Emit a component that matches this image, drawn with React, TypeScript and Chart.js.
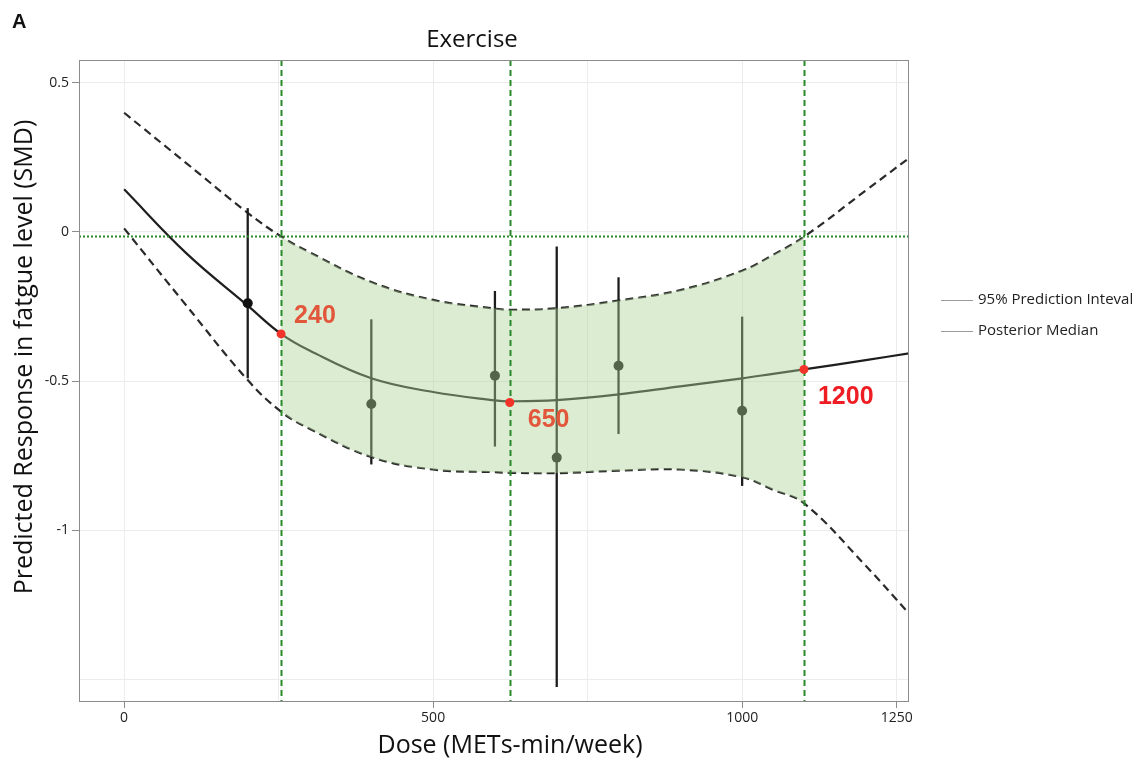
import React, { useEffect, useRef } from "react";
import { Chart, registerables } from "chart.js";

Chart.register(...registerables);

// ---- data ----
const doseGrid = [0, 100, 200, 254, 300, 400, 500, 600, 624, 700, 800, 900, 1000, 1050, 1100, 1200, 1270];
const medianY = [0.143, -0.07, -0.247, -0.342, -0.398, -0.491, -0.537, -0.565, -0.568, -0.564, -0.545, -0.518, -0.491, -0.476, -0.461, -0.43, -0.407];
const upperY = [0.4, 0.232, 0.064, -0.015, -0.068, -0.168, -0.228, -0.257, -0.261, -0.256, -0.23, -0.195, -0.13, -0.077, -0.016, 0.139, 0.248];
const lowerY = [0.012, -0.245, -0.497, -0.603, -0.66, -0.755, -0.797, -0.806, -0.808, -0.809, -0.801, -0.797, -0.823, -0.865, -0.91, -1.12, -1.28];

const studyDose = [200, 400, 600, 700, 800, 1000];
const studyMean = [-0.239, -0.577, -0.482, -0.757, -0.449, -0.6];
const studyLow = [-0.491, -0.78, -0.72, -1.527, -0.678, -0.852];
const studyHigh = [0.08, -0.293, -0.198, -0.049, -0.152, -0.284];

const thresholdDose = [254, 624, 1100];
const thresholdY = [-0.342, -0.572, -0.461];
const thresholdLabels = ["240", "650", "1200"];
const nullLineY = -0.012;

const xTickValues = [0, 250, 500, 750, 1000, 1250];
const xTickLabels = ["0", "", "500", "", "1000", "1250"];
const yTickValues = [-1.5, -1, -0.5, 0, 0.5];
const yTickLabels = ["", "-1", "-0.5", "0", "0.5"];

const legendLabels = ["95% Prediction Inteval", "Posterior Median"];
const chartTitle = "Exercise";
const panelLetter = "A";
const xTitle = "Dose (METs-min/week)";
const yTitle = "Predicted Response in fatgue level (SMD)";

// ---- styles ----
const FONT = "'Open Sans', 'Noto Sans', sans-serif";
const BAND_FILL = "rgba(174, 211, 150, 0.43)";
const GREEN = "#2a8a2a";
const TENSION = 0.4;
const labelColors = ["#e2573b", "#e2573b", "#ee1d23"];
const labelOffsets = [
  [13, -18],
  [18, 18],
  [14, 28],
];

const toXY = (xs: number[], ys: number[]) => xs.map((x, i) => ({ x, y: ys[i] }));

export default function App() {
  const ref = useRef<HTMLCanvasElement | null>(null);

  useEffect(() => {
    if (!ref.current) return;
    const bandStart = thresholdDose[0];
    const bandEnd = thresholdDose[thresholdDose.length - 1];

    const decor = {
      id: "decor",
      beforeDatasetDraw(chart: any, args: any) {
        if (args.index !== 3) return;
        const { ctx, scales } = chart;
        ctx.save();
        ctx.strokeStyle = "#1c1c1c";
        ctx.lineWidth = 2.3;
        studyDose.forEach((d, i) => {
          const px = scales.x.getPixelForValue(d);
          ctx.beginPath();
          ctx.moveTo(px, scales.y.getPixelForValue(studyLow[i]));
          ctx.lineTo(px, scales.y.getPixelForValue(studyHigh[i]));
          ctx.stroke();
        });
        ctx.restore();
      },
      afterDatasetDraw(chart: any, args: any) {
        if (args.index !== 4) return;
        const { ctx, scales, chartArea } = chart;
        ctx.save();
        ctx.strokeStyle = GREEN;
        ctx.lineWidth = 2;
        ctx.setLineDash([6, 4]);
        thresholdDose.forEach((d) => {
          const px = Math.round(scales.x.getPixelForValue(d)) + 0.5;
          ctx.beginPath();
          ctx.moveTo(px, chartArea.top);
          ctx.lineTo(px, chartArea.bottom);
          ctx.stroke();
        });
        ctx.setLineDash([2, 2]);
        const py = Math.round(scales.y.getPixelForValue(nullLineY)) + 0.5;
        ctx.beginPath();
        ctx.moveTo(chartArea.left, py);
        ctx.lineTo(chartArea.right, py);
        ctx.stroke();
        ctx.restore();
      },
      afterDraw(chart: any) {
        const { ctx, chartArea, scales } = chart;
        ctx.save();
        // plot border
        ctx.strokeStyle = "#8c8c8c";
        ctx.lineWidth = 1;
        ctx.strokeRect(chartArea.left + 0.5, chartArea.top + 0.5, chartArea.right - chartArea.left - 1, chartArea.bottom - chartArea.top - 1);

        // threshold labels
        ctx.font = "bold 25px 'Liberation Sans', Arial, sans-serif";
        ctx.textAlign = "left";
        ctx.textBaseline = "middle";
        thresholdDose.forEach((d, i) => {
          const px = scales.x.getPixelForValue(d);
          const py = scales.y.getPixelForValue(thresholdY[i]);
          ctx.fillStyle = labelColors[i];
          ctx.fillText(thresholdLabels[i], px + labelOffsets[i][0], py + labelOffsets[i][1]);
        });

        ctx.fillStyle = "#111";
        // panel letter
        ctx.font = "bold 20px 'Liberation Sans', Arial, sans-serif";
        ctx.fillText(panelLetter, 12, 22);

        // title
        ctx.textAlign = "center";
        ctx.font = `24px ${FONT}`;
        ctx.fillText(chartTitle, 472, 40);

        // x title
        ctx.font = `25px ${FONT}`;
        ctx.fillText(xTitle, 510, 746);

        // y title
        ctx.save();
        ctx.translate(25, 357);
        ctx.rotate(-Math.PI / 2);
        ctx.font = `25px ${FONT}`;
        ctx.fillText(yTitle, 0, 0);
        ctx.restore();

        // legend
        ctx.textAlign = "left";
        ctx.font = `15px ${FONT}`;
        legendLabels.forEach((t, i) => {
          const y = 300 + i * 31;
          ctx.strokeStyle = "#9a9a9a";
          ctx.lineWidth = 1;
          ctx.beginPath();
          ctx.moveTo(941, y + 0.5);
          ctx.lineTo(973, y + 0.5);
          ctx.stroke();
          ctx.fillStyle = "#222";
          ctx.fillText(t, 978, y);
        });
        ctx.restore();
      },
    };

    const lineBase = {
      pointRadius: 0,
      tension: TENSION,
      cubicInterpolationMode: "default",
    };

    const chart = new Chart(ref.current, {
      type: "line",
      data: {
        datasets: [
          {
            ...lineBase,
            label: "Posterior Median",
            data: toXY(doseGrid, medianY),
            borderColor: "#1e1e1e",
            borderWidth: 2.2,
            fill: false,
            order: 5,
          },
          {
            ...lineBase,
            label: "upper",
            data: toXY(doseGrid, upperY),
            borderColor: "#2a2a2a",
            borderWidth: 2.2,
            borderDash: [8, 5],
            fill: false,
            order: 5,
          },
          {
            ...lineBase,
            label: "lower",
            data: toXY(doseGrid, lowerY),
            borderColor: "#2a2a2a",
            borderWidth: 2.2,
            borderDash: [8, 5],
            fill: false,
            order: 5,
          },
          {
            label: "studies",
            data: toXY(studyDose, studyMean),
            showLine: false,
            pointRadius: 5,
            pointBackgroundColor: "#111",
            pointBorderWidth: 0,
            order: 4,
          },
          {
            ...lineBase,
            label: "band",
            data: toXY(doseGrid, upperY),
            borderWidth: 0,
            borderColor: "rgba(0,0,0,0)",
            fill: 2,
            backgroundColor: BAND_FILL,
            segment: {
              backgroundColor: (c: any) =>
                c.p0.parsed.x >= bandStart && c.p1.parsed.x <= bandEnd ? BAND_FILL : "rgba(0,0,0,0)",
            },
            order: 1,
          },
          {
            label: "thresholds",
            data: toXY(thresholdDose, thresholdY),
            showLine: false,
            pointRadius: 4.5,
            pointBackgroundColor: "#f2332a",
            pointBorderWidth: 0,
            order: 0,
          },
        ],
      },
      options: {
        responsive: false,
        animation: false,
        events: [],
        layout: { padding: { top: 60, right: 238, bottom: 0, left: 0 } },
        plugins: {
          legend: { display: false },
          tooltip: { enabled: false },
          title: { display: false },
          filler: { propagate: false, drawTime: "beforeDatasetDraw" },
        },
        scales: {
          x: {
            type: "linear",
            min: -73,
            max: 1270,
            afterFit: (s: any) => {
              s.height = 63;
            },
            afterBuildTicks: (s: any) => {
              s.ticks = xTickValues.map((v) => ({ value: v }));
            },
            ticks: {
              callback: (_v: any, i: number) => xTickLabels[i],
              font: { family: FONT, size: 14 },
              color: "#222",
              padding: 2,
              maxRotation: 0,
              autoSkip: false,
            },
            grid: {
              color: "#ececec",
              lineWidth: 1,
              tickLength: 6,
              tickColor: (c: any) => (xTickLabels[c.index] ? "#8c8c8c" : "rgba(0,0,0,0)"),
            },
            border: { display: false },
          },
          y: {
            type: "linear",
            min: -1.577,
            max: 0.577,
            afterFit: (s: any) => {
              s.width = 79;
            },
            afterBuildTicks: (s: any) => {
              s.ticks = yTickValues.map((v) => ({ value: v }));
            },
            ticks: {
              callback: (_v: any, i: number) => yTickLabels[i],
              font: { family: FONT, size: 14 },
              color: "#222",
              padding: 3,
              autoSkip: false,
            },
            grid: {
              color: "#ececec",
              lineWidth: 1,
              tickLength: 7,
              tickColor: (c: any) => (yTickLabels[c.index] ? "#8c8c8c" : "rgba(0,0,0,0)"),
            },
            border: { display: false },
          },
        },
      },
      plugins: [decor],
    } as any);

    return () => chart.destroy();
  }, []);

  return (
    <div style={{ position: "fixed", left: 0, top: 0, width: 1147, height: 765, background: "#fff" }}>
      <canvas ref={ref} width={1147} height={765} style={{ display: "block" }} />
    </div>
  );
}
